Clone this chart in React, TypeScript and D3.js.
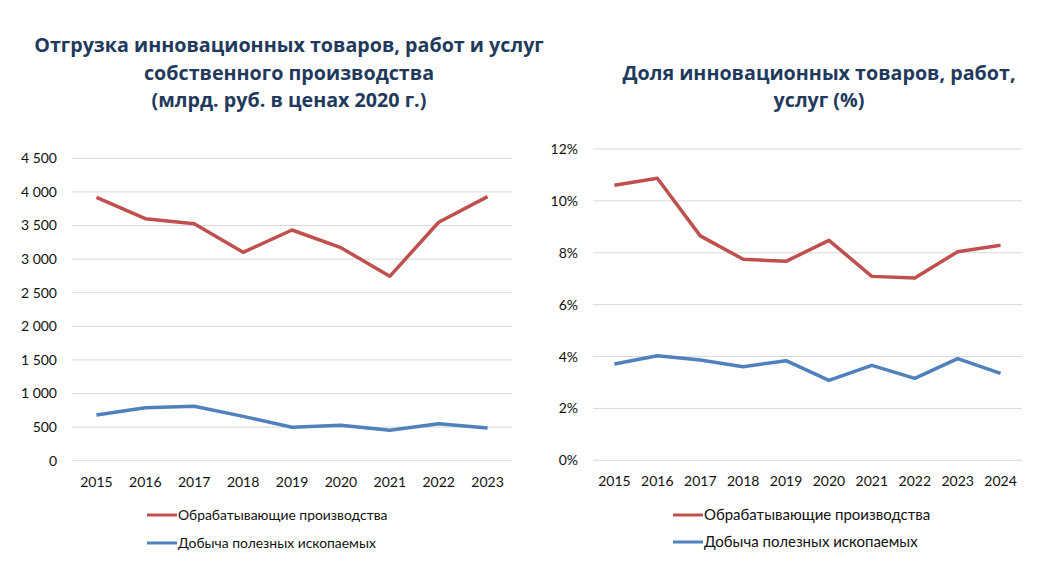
import { useEffect, useRef } from "react";
import { axisBottom, axisLeft, formatLocale, line, scaleBand, scaleLinear, select } from "d3";

const yearsLeft = ["2015", "2016", "2017", "2018", "2019", "2020", "2021", "2022", "2023"];
const manufLeft = [3920, 3601, 3527, 3101, 3433, 3170, 2744, 3548, 3929];
const miningLeft = [680, 789, 809, 660, 497, 527, 452, 551, 487];
const ticksLeft = [0, 500, 1000, 1500, 2000, 2500, 3000, 3500, 4000, 4500];

const yearsRight = ["2015", "2016", "2017", "2018", "2019", "2020", "2021", "2022", "2023", "2024"];
const manufRight = [10.6, 10.87, 8.65, 7.75, 7.67, 8.48, 7.09, 7.03, 8.04, 8.29];
const miningRight = [3.71, 4.03, 3.87, 3.61, 3.84, 3.08, 3.66, 3.16, 3.92, 3.35];
const ticksRight = [0, 2, 4, 6, 8, 10, 12];

const seriesNames = ["Обрабатывающие производства", "Добыча полезных ископаемых"];
const titleLeft = ["Отгрузка инновационных товаров, работ и услуг", "собственного производства", "(млрд. руб. в ценах 2020 г.)"];
const titleRight = ["Доля инновационных товаров, работ,", "услуг (%)"];

const RED = "#C0504D";
const BLUE = "#4F81BD";
const FONT = "Lato, 'Open Sans', sans-serif";

const ru = formatLocale({ decimal: ",", thousands: "\u00a0", grouping: [3], currency: ["", ""] });

type Panel = {
  years: string[];
  series: number[][];
  ticks: number[];
  fmt: (v: number) => string;
  x0: number; x1: number; y0: number; y1: number;
  title: string[];
  titleX: number;
  titleY: number[];
  legendX: number;
  legendY: number[];
  legendSize: number;
};

function drawPanel(svg: any, p: Panel) {
  const x = scaleBand().domain(p.years).range([p.x0, p.x1]).padding(0);
  const y = scaleLinear().domain([p.ticks[0], p.ticks[p.ticks.length - 1]]).range([p.y0, p.y1]);

  // gridlines
  svg.append("g")
    .selectAll("line")
    .data(p.ticks)
    .enter()
    .append("line")
    .attr("x1", p.x0)
    .attr("x2", p.x1)
    .attr("y1", (d: number) => y(d))
    .attr("y2", (d: number) => y(d))
    .attr("stroke", "#D9D9D9")
    .attr("stroke-width", 1);

  const yAxis = svg.append("g")
    .attr("transform", `translate(${p.x0},0)`)
    .call(axisLeft(y).tickValues(p.ticks).tickSize(0).tickPadding(15).tickFormat((d: any) => p.fmt(d)));
  yAxis.select(".domain").remove();

  const xAxis = svg.append("g")
    .attr("transform", `translate(0,${p.y0})`)
    .call(axisBottom(x).tickSize(0).tickPadding(16));
  xAxis.select(".domain").remove();

  svg.selectAll("g text")
    .attr("font-family", FONT)
    .attr("font-size", 14)
    .attr("fill", "#111");

  const colors = [RED, BLUE];
  p.series.forEach((vals, i) => {
    const gen = line<number>()
      .x((_, j) => (x(p.years[j]) as number) + x.bandwidth() / 2)
      .y(d => y(d));
    svg.append("path")
      .attr("d", gen(vals))
      .attr("fill", "none")
      .attr("stroke", colors[i])
      .attr("stroke-width", 3.5)
      .attr("stroke-linejoin", "round");
  });

  p.title.forEach((t, i) => {
    svg.append("text")
      .attr("x", p.titleX)
      .attr("y", p.titleY[i])
      .attr("text-anchor", "middle")
      .attr("font-family", "'Open Sans', sans-serif")
      .attr("font-weight", "bold")
      .attr("font-size", 19.7)
      .attr("fill", "#1F3A5C")
      .text(t);
  });

  seriesNames.forEach((name, i) => {
    const ly = p.legendY[i];
    svg.append("line")
      .attr("x1", p.legendX)
      .attr("x2", p.legendX + 30)
      .attr("y1", ly)
      .attr("y2", ly)
      .attr("stroke", colors[i])
      .attr("stroke-width", 3);
    svg.append("text")
      .attr("x", p.legendX + 31)
      .attr("y", ly)
      .attr("dy", "0.35em")
      .attr("font-family", FONT)
      .attr("font-size", p.legendSize)
      .attr("fill", "#111")
      .text(name);
  });
}

export default function App() {
  const ref = useRef<SVGSVGElement>(null);

  useEffect(() => {
    const svg = select(ref.current);
    svg.selectAll("*").remove();

    drawPanel(svg.append("g"), {
      years: yearsLeft,
      series: [manufLeft, miningLeft],
      ticks: ticksLeft,
      fmt: ru.format(",d"),
      x0: 72, x1: 512, y0: 460.7, y1: 158.3,
      title: titleLeft,
      titleX: 289,
      titleY: [52, 80, 107],
      legendX: 147,
      legendY: [515, 543],
      legendSize: 13.9,
    });

    drawPanel(svg.append("g"), {
      years: yearsRight,
      series: [manufRight, miningRight],
      ticks: ticksRight,
      fmt: (v: number) => `${v}%`,
      x0: 593, x1: 1022, y0: 460.3, y1: 149,
      title: titleRight,
      titleX: 819,
      titleY: [80, 107],
      legendX: 673,
      legendY: [515, 542],
      legendSize: 15,
    });
  }, []);

  return (
    <div style={{ position: "absolute", left: 0, top: 0 }}>
      <svg ref={ref} width={1040} height={582} style={{ display: "block", background: "#fff" }} />
    </div>
  );
}
